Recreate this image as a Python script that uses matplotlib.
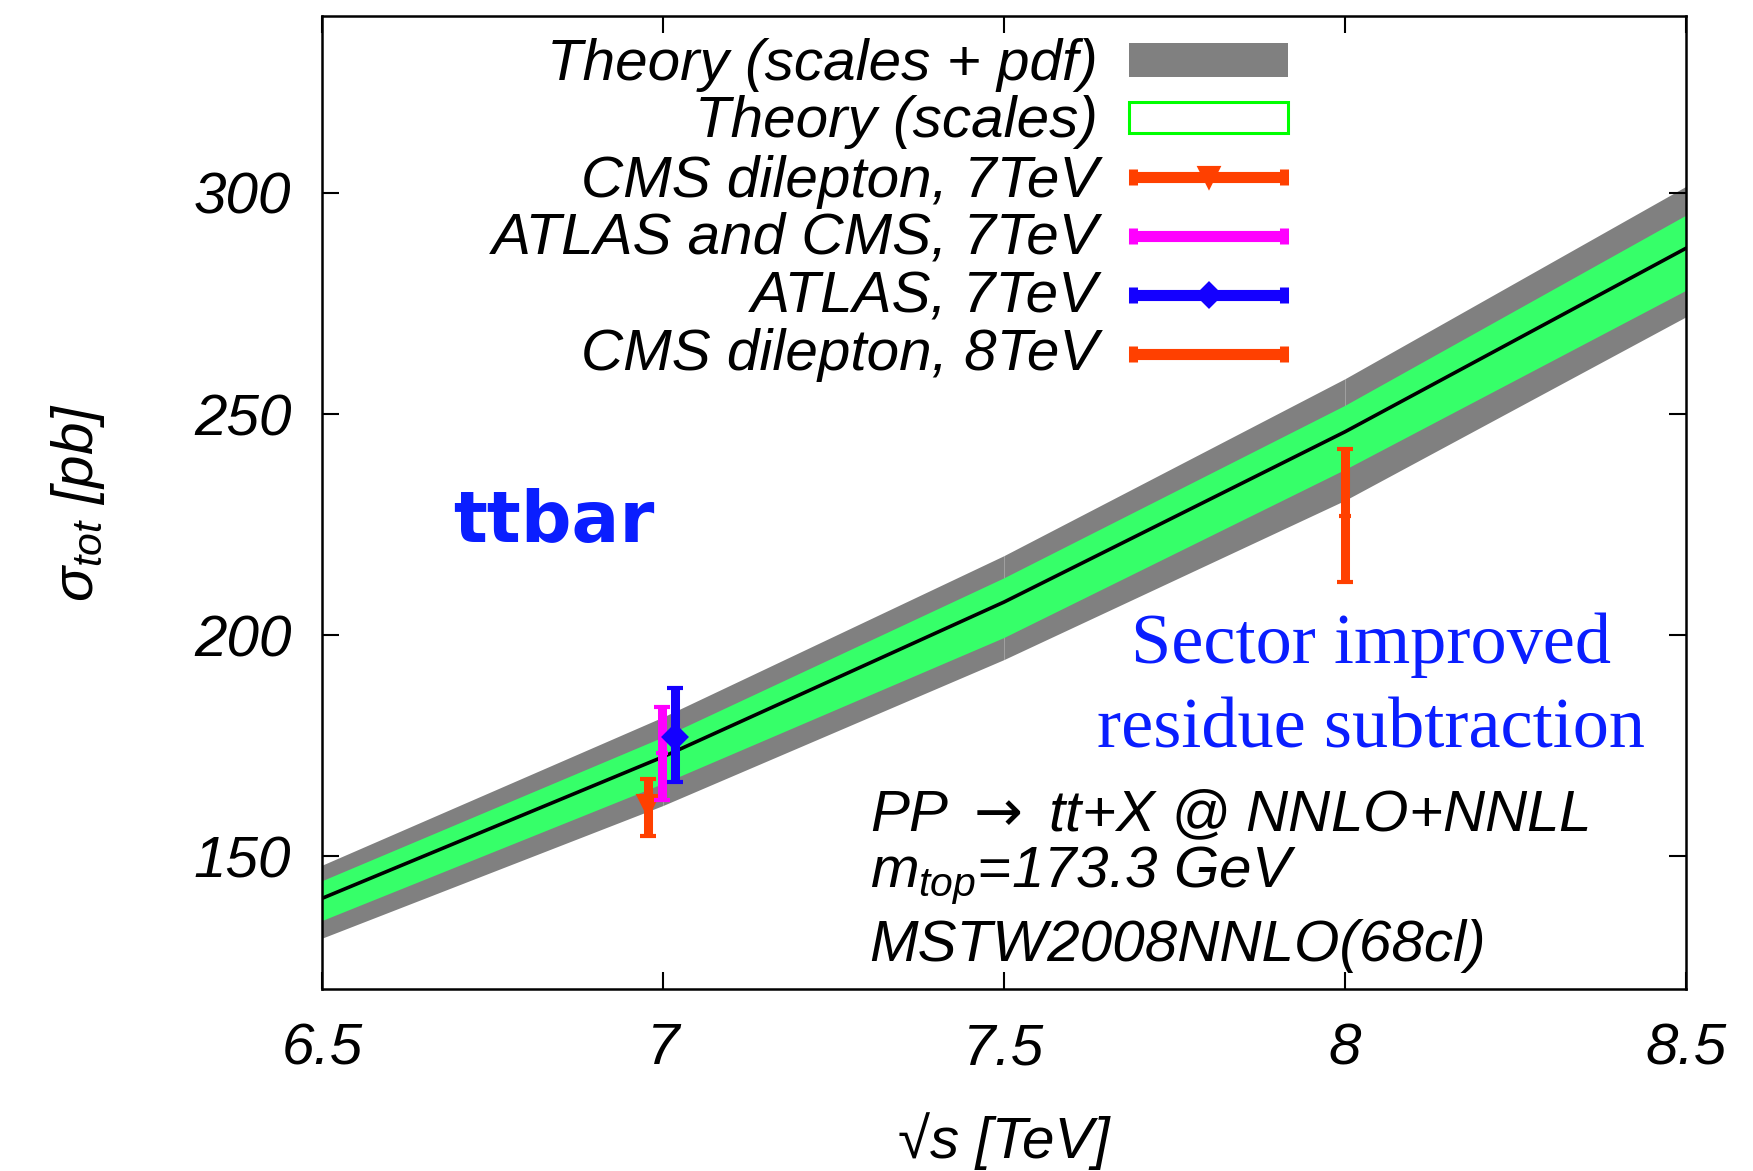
import matplotlib
matplotlib.use('Agg')
import matplotlib.pyplot as plt
from matplotlib.patches import Rectangle

energy = [6.5, 7.0, 7.5, 8.0, 8.5]
sigma_central = [140.5, 172.5, 207.5, 246.0, 287.5]
total_lo = [131.5, 161.5, 194.5, 230.5, 272.0]
total_hi = [148.0, 181.5, 218.0, 258.0, 301.5]
scale_lo = [135.5, 166.5, 199.5, 237.5, 278.0]
scale_hi = [144.5, 177.0, 213.0, 252.0, 295.0]

# measurements
meas_labels = ['CMS dilepton, 7TeV', 'ATLAS and CMS, 7TeV', 'ATLAS, 7TeV', 'CMS dilepton, 8TeV']
meas_x = [6.978, 6.998, 7.018, 8.0]
meas_y = [161.5, 173.3, 177.0, 227.0]
meas_err_lo = [7.0, 10.5, 10.3, 15.0]
meas_err_hi = [6.0, 10.5, 11.0, 15.0]
meas_colors = ['#ff4000', '#ff00ff', '#1400ff', '#ff4000']
meas_markers = ['v', '_', 'D', '_']
meas_msize = [13, 9, 11, 9]

x_ticks = [6.5, 7, 7.5, 8, 8.5]
x_ticklabels = ['6.5', '7', '7.5', '8', '8.5']
y_ticks = [150, 200, 250, 300]

plt.rcParams['font.family'] = ['Liberation Sans', 'DejaVu Sans']
plt.rcParams['font.style'] = 'italic'
plt.rcParams['mathtext.fontset'] = 'custom'
plt.rcParams['mathtext.rm'] = 'Liberation Sans:italic'
plt.rcParams['mathtext.it'] = 'Liberation Sans:italic'
plt.rcParams['mathtext.sf'] = 'DejaVu Sans'

fs = 42
gray = '#808080'
green = '#36ff69'
blue_txt = '#0a1eff'

fig = plt.figure(figsize=(17.53, 11.71), dpi=100)
ax = fig.add_axes([0.1837, 0.1554, 0.9618 - 0.1837, 0.9863 - 0.1554])

# gray band drawn segment by segment (gives the faint seams like the original)
for i in range(len(energy) - 1):
    ax.fill_between(energy[i:i + 2], total_lo[i:i + 2], total_hi[i:i + 2],
                    color=gray, lw=0, zorder=1)
ax.fill_between(energy, scale_lo, scale_hi, color=green, lw=0, zorder=2)
ax.plot(energy, sigma_central, color='black', lw=2.6, zorder=3)

for i in range(len(meas_x)):
    ax.errorbar([meas_x[i]], [meas_y[i]], yerr=[[meas_err_lo[i]], [meas_err_hi[i]]],
                fmt=meas_markers[i], color=meas_colors[i], ms=meas_msize[i], mew=3,
                elinewidth=6.5, capsize=6, capthick=8, zorder=4 + i)

ax.set_xlim(6.5, 8.5)
ax.set_ylim(120, 340)
ax.set_xticks(x_ticks)
ax.set_xticklabels(x_ticklabels)
ax.set_yticks(y_ticks)
ax.tick_params(direction='in', length=12, width=1.5, labelsize=fs,
               top=True, right=True)
ax.tick_params(axis='x', pad=24)
ax.tick_params(axis='y', pad=22)
for s in ax.spines.values():
    s.set_linewidth(1.8)

ax.set_xlabel('√s [TeV]', fontsize=fs, va='baseline')
ax.xaxis.set_label_coords(0.5, -0.1737)
ax.set_ylabel(r'$\sigma_{tot}$ [pb]', fontsize=fs, va='baseline')
ax.yaxis.set_label_coords(-0.1679, 0.5)

# legend, gnuplot style: text on the left, samples on the right
tr = ax.transAxes
kx0, kx1 = 0.5917, 0.7082
txt_x = 0.569
baselines = [0.9342, 0.8756, 0.8140, 0.7564, 0.6958, 0.6362]
centers = [0.9548, 0.8957, 0.8345, 0.7739, 0.7133, 0.6526]
ax.text(txt_x, baselines[0], 'Theory (scales + pdf)', transform=tr, ha='right',
        va='baseline', fontsize=fs)
ax.add_patch(Rectangle((kx0, 0.9373), kx1 - kx0, 0.0350, transform=tr,
                       facecolor=gray, edgecolor='none', zorder=10))
ax.text(txt_x, baselines[1], 'Theory (scales)', transform=tr, ha='right',
        va='baseline', fontsize=fs)
ax.add_patch(Rectangle((kx0, 0.8798), kx1 - kx0, 0.0318, transform=tr,
                       facecolor='white', edgecolor='#00ff00', lw=2.2, zorder=10))
for i in range(len(meas_labels)):
    yc = centers[i + 2]
    ax.text(txt_x, baselines[i + 2], meas_labels[i], transform=tr, ha='right',
            va='baseline', fontsize=fs)
    ax.plot([kx0, kx1], [yc, yc], transform=tr, color=meas_colors[i], lw=8,
            solid_capstyle='butt', zorder=10)
    ax.plot([kx0 + 0.003, kx1 - 0.003], [yc, yc], transform=tr, ls='none',
            marker='|', ms=12, mew=6.5, color=meas_colors[i], zorder=10)
    ax.plot([(kx0 + kx1) / 2], [yc], transform=tr, marker=meas_markers[i],
            ms=meas_msize[i], mew=3, color=meas_colors[i], zorder=11)

# annotations
ax.text(6.692, 221.0, 'ttbar', fontsize=51, fontweight='bold', style='normal',
        family='DejaVu Sans', color=blue_txt)
ax.text(8.038, 300 - (663 - 192) / 4.433, 'Sector improved', fontsize=52,
        style='normal', family='Liberation Serif', color=blue_txt,
        ha='center', va='baseline')
ax.text(8.038, 300 - (748 - 192) / 4.433, 'residue subtraction', fontsize=52,
        style='normal', family='Liberation Serif', color=blue_txt,
        ha='center', va='baseline')

ax.text(7.303, 155.6, r'PP $\mathsf{\rightarrow}$ tt+X @ NNLO+NNLL', fontsize=fs,
        va='baseline')
ax.text(7.303, 143.0, r'$m_{top}$=173.3 GeV', fontsize=fs, va='baseline')
ax.text(7.303, 126.3, 'MSTW2008NNLO(68cl)', fontsize=fs, va='baseline')

fig.savefig('out.png', dpi=100)
